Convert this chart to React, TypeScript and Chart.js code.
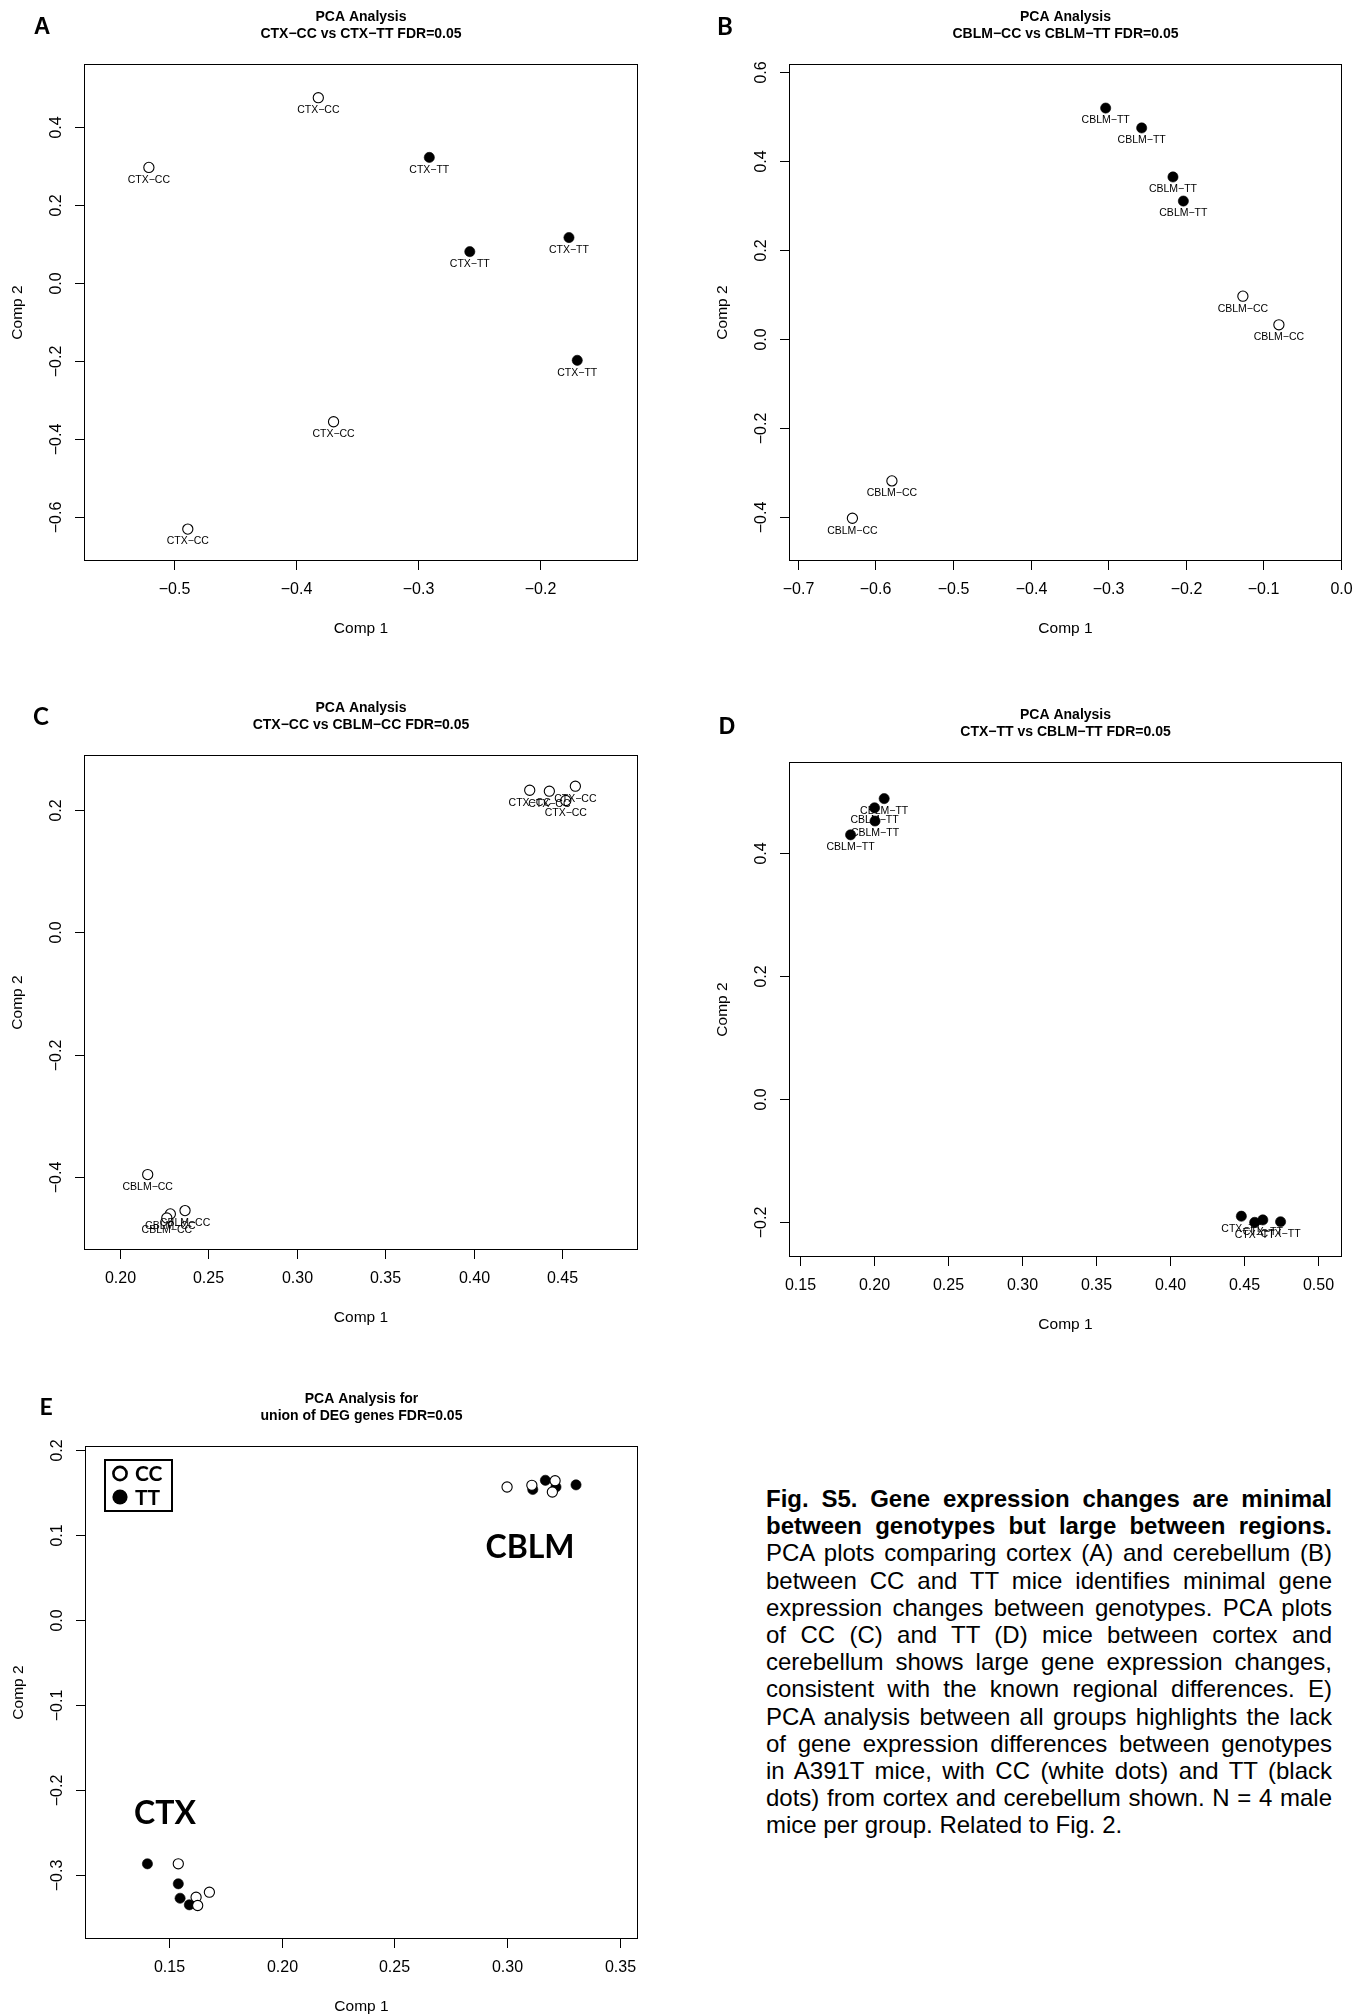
import React, { useEffect, useRef } from "react";
import { Chart, registerables } from "chart.js";

Chart.register(...registerables);

const RFONT = "'Liberation Sans', Arial, Helvetica, sans-serif";
const CFONT = "Lato, 'Open Sans', sans-serif";
const MINUS = "\u2212";

// ---------- Panel A : CTX-CC vs CTX-TT ----------
const A_CC_X = [-0.5204, -0.3815, -0.369, -0.4885];
const A_CC_Y = [0.2954, 0.474, -0.356, -0.631];
const A_TT_X = [-0.2905, -0.2573, -0.176, -0.1692];
const A_TT_Y = [0.321, 0.0797, 0.1158, -0.1987];
const A_X_TICKS = [-0.5, -0.4, -0.3, -0.2];
const A_Y_TICKS = [-0.6, -0.4, -0.2, 0, 0.2, 0.4];
const A_X_RANGE = [-0.5736, -0.1194];
const A_Y_RANGE = [-0.7127, 0.5603];

// ---------- Panel B : CBLM-CC vs CBLM-TT ----------
const B_TT_X = [-0.3032, -0.2568, -0.2165, -0.2031];
const B_TT_Y = [0.5196, 0.4749, 0.3648, 0.3107];
const B_CC_X = [-0.1264, -0.08, -0.5786, -0.6295];
const B_CC_Y = [0.097, 0.0327, -0.318, -0.402];
const B_X_TICKS = [-0.7, -0.6, -0.5, -0.4, -0.3, -0.2, -0.1, 0.0];
const B_Y_TICKS = [-0.4, -0.2, 0, 0.2, 0.4, 0.6];
const B_X_RANGE = [-0.7112, 0.0013];
const B_Y_RANGE = [-0.498, 0.6186];

// ---------- Panel C : CTX-CC vs CBLM-CC ----------
const C_CTX_X = [0.4316, 0.4427, 0.4574, 0.452];
const C_CTX_Y = [0.232, 0.2304, 0.2386, 0.2152];
const C_CBLM_X = [0.2157, 0.2368, 0.2285, 0.2265];
const C_CBLM_Y = [-0.3954, -0.4542, -0.4596, -0.4662];
const C_X_TICKS = [0.2, 0.25, 0.3, 0.35, 0.4, 0.45];
const C_Y_TICKS = [-0.4, -0.2, 0, 0.2];
const C_X_RANGE = [0.1797, 0.4928];
const C_Y_RANGE = [-0.5185, 0.2895];

// ---------- Panel D : CTX-TT vs CBLM-TT ----------
const D_CBLM_X = [0.2067, 0.2002, 0.2005, 0.184];
const D_CBLM_Y = [0.489, 0.474, 0.4525, 0.43];
const D_CTX_X = [0.448, 0.457, 0.4625, 0.4745];
const D_CTX_Y = [-0.191, -0.201, -0.197, -0.2];
const D_X_TICKS = [0.15, 0.2, 0.25, 0.3, 0.35, 0.4, 0.45, 0.5];
const D_Y_TICKS = [-0.2, 0, 0.2, 0.4];
const D_X_RANGE = [0.1424, 0.516];
const D_Y_RANGE = [-0.2574, 0.5486];

// ---------- Panel E : union of DEG genes ----------
const E_CC_X = [0.3, 0.311, 0.3213, 0.3201, 0.1541, 0.162, 0.1679, 0.1627];
const E_CC_Y = [0.1563, 0.1583, 0.1637, 0.1504, -0.2867, -0.326, -0.3201, -0.3357];
const E_TT_X = [0.317, 0.3114, 0.3217, 0.3306, 0.1404, 0.1541, 0.1549, 0.159];
const E_TT_Y = [0.1642, 0.1534, 0.1563, 0.1588, -0.2867, -0.3102, -0.3272, -0.3349];
const E_X_TICKS = [0.15, 0.2, 0.25, 0.3, 0.35];
const E_Y_TICKS = [-0.3, -0.2, -0.1, 0, 0.1, 0.2];
const E_X_RANGE = [0.1127, 0.3581];
const E_Y_RANGE = [-0.3751, 0.2045];
const E_REGION_NAMES = ["CBLM", "CTX"];
const E_REGION_X = [0.3102, 0.1482];
const E_REGION_Y = [0.0853, -0.2276];
const E_LEGEND = ["CC", "TT"];

const CAPTION_BOLD = [
  "Fig. S5. Gene expression changes are minimal",
  "between genotypes but large between regions.",
];
const CAPTION_REG = [
  "PCA plots comparing cortex (A) and cerebellum (B)",
  "between CC and TT mice identifies minimal gene",
  "expression changes between genotypes. PCA plots",
  "of CC (C) and TT (D) mice between cortex and",
  "cerebellum shows large gene expression changes,",
  "consistent with the known regional differences. E)",
  "PCA analysis between all groups highlights the lack",
  "of gene expression differences between genotypes",
  "in A391T mice, with CC (white dots) and TT (black",
  "dots) from cortex and cerebellum shown. N = 4 male",
  "mice per group. Related to Fig. 2.",
];

type Series = { xs: number[]; ys: number[]; filled: boolean; label?: string };
type PanelCfg = {
  left: number;
  top: number;
  w: number;
  h: number;
  pad: { left: number; top: number; right: number; bottom: number };
  letter: string;
  letterFont: string;
  letterPos: [number, number];
  titles: string[];
  xRange: number[];
  yRange: number[];
  xTicks: number[];
  yTicks: number[];
  xDec: number;
  yDec: number;
  series: Series[];
  regions?: boolean;
  legend?: boolean;
};

const fmt = (v: number, d: number) => {
  const r = Math.abs(v) < 1e-9 ? 0 : v;
  return (r < 0 ? MINUS : "") + Math.abs(r).toFixed(d);
};

const PANELS: PanelCfg[] = [
  {
    left: 0, top: 0, w: 681, h: 680,
    pad: { left: 84, top: 64, right: 43, bottom: 119 },
    letter: "A", letterFont: `bold 23px ${RFONT}`, letterPos: [42, 28],
    titles: ["PCA Analysis", `CTX${MINUS}CC vs CTX${MINUS}TT FDR=0.05`],
    xRange: A_X_RANGE, yRange: A_Y_RANGE, xTicks: A_X_TICKS, yTicks: A_Y_TICKS, xDec: 1, yDec: 1,
    series: [
      { xs: A_CC_X, ys: A_CC_Y, filled: false, label: `CTX${MINUS}CC` },
      { xs: A_TT_X, ys: A_TT_Y, filled: true, label: `CTX${MINUS}TT` },
    ],
  },
  {
    left: 681, top: 0, w: 681, h: 680,
    pad: { left: 108, top: 64, right: 20, bottom: 119 },
    letter: "B", letterFont: `bold 24px ${CFONT}`, letterPos: [44, 27],
    titles: ["PCA Analysis", `CBLM${MINUS}CC vs CBLM${MINUS}TT FDR=0.05`],
    xRange: B_X_RANGE, yRange: B_Y_RANGE, xTicks: B_X_TICKS, yTicks: B_Y_TICKS, xDec: 1, yDec: 1,
    series: [
      { xs: B_CC_X, ys: B_CC_Y, filled: false, label: `CBLM${MINUS}CC` },
      { xs: B_TT_X, ys: B_TT_Y, filled: true, label: `CBLM${MINUS}TT` },
    ],
  },
  {
    left: 0, top: 680, w: 681, h: 660,
    pad: { left: 84, top: 75, right: 43, bottom: 90 },
    letter: "C", letterFont: `bold 24px ${CFONT}`, letterPos: [41, 37],
    titles: ["PCA Analysis", `CTX${MINUS}CC vs CBLM${MINUS}CC FDR=0.05`],
    xRange: C_X_RANGE, yRange: C_Y_RANGE, xTicks: C_X_TICKS, yTicks: C_Y_TICKS, xDec: 2, yDec: 1,
    series: [
      { xs: C_CTX_X, ys: C_CTX_Y, filled: false, label: `CTX${MINUS}CC` },
      { xs: C_CBLM_X, ys: C_CBLM_Y, filled: false, label: `CBLM${MINUS}CC` },
    ],
  },
  {
    left: 681, top: 680, w: 681, h: 660,
    pad: { left: 108, top: 82, right: 20, bottom: 83 },
    letter: "D", letterFont: `bold 23px ${RFONT}`, letterPos: [46, 48],
    titles: ["PCA Analysis", `CTX${MINUS}TT vs CBLM${MINUS}TT FDR=0.05`],
    xRange: D_X_RANGE, yRange: D_Y_RANGE, xTicks: D_X_TICKS, yTicks: D_Y_TICKS, xDec: 2, yDec: 1,
    series: [
      { xs: D_CBLM_X, ys: D_CBLM_Y, filled: true, label: `CBLM${MINUS}TT` },
      { xs: D_CTX_X, ys: D_CTX_Y, filled: true, label: `CTX${MINUS}TT` },
    ],
  },
  {
    left: 0, top: 1340, w: 681, h: 675,
    pad: { left: 85, top: 106, right: 43, bottom: 76 },
    letter: "E", letterFont: `bold 23px ${CFONT}`, letterPos: [46, 68],
    titles: ["PCA Analysis for", "union of DEG genes FDR=0.05"],
    xRange: E_X_RANGE, yRange: E_Y_RANGE, xTicks: E_X_TICKS, yTicks: E_Y_TICKS, xDec: 2, yDec: 1,
    series: [
      { xs: E_CC_X, ys: E_CC_Y, filled: false },
      { xs: E_TT_X, ys: E_TT_Y, filled: true },
    ],
    regions: true,
    legend: true,
  },
];

function makeFramePlugin(p: PanelCfg) {
  return {
    id: "rframe",
    afterDraw(chart: any) {
      const ctx: CanvasRenderingContext2D = chart.ctx;
      const ca = chart.chartArea;
      const xs = chart.scales.x;
      const ys = chart.scales.y;
      ctx.save();
      ctx.fillStyle = "#000";
      ctx.strokeStyle = "#000";

      // point labels
      ctx.font = `10.5px ${RFONT}`;
      ctx.textAlign = "center";
      ctx.textBaseline = "middle";
      p.series.forEach((s, di) => {
        if (!s.label) return;
        const meta = chart.getDatasetMeta(di);
        meta.data.forEach((el: any) => {
          ctx.fillText(s.label as string, el.x, el.y + 12.5);
        });
      });

      // box
      ctx.lineWidth = 1;
      const L = Math.round(ca.left) + 0.5;
      const T = Math.round(ca.top) + 0.5;
      const R = Math.round(ca.right) - 0.5;
      const B = Math.round(ca.bottom) - 0.5;
      ctx.strokeRect(L, T, R - L, B - T);

      // x ticks
      ctx.font = `16px ${RFONT}`;
      ctx.textAlign = "center";
      ctx.textBaseline = "middle";
      p.xTicks.forEach((v) => {
        const px = Math.round(xs.getPixelForValue(v)) + 0.5;
        ctx.beginPath();
        ctx.moveTo(px, B);
        ctx.lineTo(px, B + 9.5);
        ctx.stroke();
        ctx.fillText(fmt(v, p.xDec), px, ca.bottom + 29);
      });
      // y ticks
      p.yTicks.forEach((v) => {
        const py = Math.round(ys.getPixelForValue(v)) + 0.5;
        ctx.beginPath();
        ctx.moveTo(L, py);
        ctx.lineTo(L - 9.5, py);
        ctx.stroke();
        ctx.save();
        ctx.translate(ca.left - 27, py);
        ctx.rotate(-Math.PI / 2);
        ctx.fillText(fmt(v, p.yDec), 0, 0);
        ctx.restore();
      });

      // axis titles
      ctx.font = `15.5px ${RFONT}`;
      const cx = (ca.left + ca.right) / 2;
      const cy = (ca.top + ca.bottom) / 2;
      ctx.fillText("Comp 1", cx, ca.bottom + 68);
      ctx.save();
      ctx.translate(ca.left - 66.5, cy);
      ctx.rotate(-Math.PI / 2);
      ctx.fillText("Comp 2", 0, 0);
      ctx.restore();

      // main title
      ctx.font = `bold 14px ${RFONT}`;
      ctx.fillText(p.titles[0], cx, ca.top - 47);
      ctx.fillText(p.titles[1], cx, ca.top - 30);

      // panel letter
      ctx.font = p.letterFont;
      ctx.fillText(p.letter, p.letterPos[0], p.letterPos[1]);

      // region annotations
      if (p.regions) {
        ctx.font = `bold 32px ${CFONT}`;
        E_REGION_NAMES.forEach((name, i) => {
          ctx.fillText(name, xs.getPixelForValue(E_REGION_X[i]), ys.getPixelForValue(E_REGION_Y[i]));
        });
      }

      // legend
      if (p.legend) {
        const lx = ca.left + 20;
        const ly = ca.top + 14;
        ctx.lineWidth = 2;
        ctx.strokeRect(lx, ly, 67, 51);
        const rows = [ly + 13.5, ly + 37];
        ctx.font = `bold 21px ${CFONT}`;
        ctx.textAlign = "left";
        E_LEGEND.forEach((lab, i) => {
          ctx.beginPath();
          ctx.arc(lx + 15, rows[i], 6.6, 0, Math.PI * 2);
          if (i === 0) {
            ctx.fillStyle = "#fff";
            ctx.fill();
            ctx.lineWidth = 2.6;
            ctx.stroke();
          } else {
            ctx.fillStyle = "#000";
            ctx.beginPath();
            ctx.arc(lx + 15, rows[i], 7.6, 0, Math.PI * 2);
            ctx.fill();
          }
          ctx.fillStyle = "#000";
          ctx.fillText(lab, lx + 30, rows[i] + 1);
        });
      }
      ctx.restore();
    },
  };
}

function PanelChart({ p }: { p: PanelCfg }) {
  const ref = useRef<HTMLCanvasElement>(null);
  useEffect(() => {
    const canvas = ref.current;
    if (!canvas) return;
    const chart = new Chart(canvas, {
      type: "scatter",
      data: {
        datasets: p.series.map((s) => ({
          data: s.xs.map((x, i) => ({ x, y: s.ys[i] })),
          pointStyle: "circle",
          pointRadius: 5.1,
          pointHoverRadius: 5.1,
          backgroundColor: s.filled ? "#000" : "#fff",
          borderColor: "#000",
          borderWidth: s.filled ? 0.6 : 1.1,
          clip: false,
        })),
      },
      options: {
        responsive: false,
        animation: false,
        devicePixelRatio: 1,
        events: [],
        layout: { padding: p.pad },
        plugins: {
          legend: { display: false },
          tooltip: { enabled: false },
          title: { display: false },
        },
        scales: {
          x: { type: "linear", min: p.xRange[0], max: p.xRange[1], display: false, bounds: "data" },
          y: { type: "linear", min: p.yRange[0], max: p.yRange[1], display: false, bounds: "data" },
        },
      } as any,
      plugins: [makeFramePlugin(p)],
    });
    return () => chart.destroy();
  }, [p]);
  return (
    <canvas
      ref={ref}
      width={p.w}
      height={p.h}
      style={{ position: "absolute", left: p.left, top: p.top, width: p.w, height: p.h }}
    />
  );
}

export default function App() {
  const lineStyle = (last: boolean, bold: boolean): React.CSSProperties =>
    ({
      height: 27.2,
      lineHeight: "27.2px",
      whiteSpace: "normal",
      textAlign: "justify",
      textAlignLast: last ? "left" : "justify",
      fontWeight: bold ? "bold" : "normal",
    } as React.CSSProperties);
  const allLines = [
    ...CAPTION_BOLD.map((t) => ({ t, b: true })),
    ...CAPTION_REG.map((t) => ({ t, b: false })),
  ];
  return (
    <div
      style={{
        position: "absolute",
        left: 0,
        top: 0,
        width: 1362,
        height: 2015,
        background: "#fff",
        overflow: "hidden",
      }}
    >
      {PANELS.map((p, i) => (
        <PanelChart key={i} p={p} />
      ))}
      <div
        style={{
          position: "absolute",
          left: 766,
          top: 1485,
          width: 566,
          fontFamily: RFONT,
          fontSize: 24,
          color: "#000",
        }}
      >
        {allLines.map((l, i) => (
          <div key={i} style={lineStyle(i === allLines.length - 1, l.b)}>
            {l.t}
          </div>
        ))}
      </div>
    </div>
  );
}
